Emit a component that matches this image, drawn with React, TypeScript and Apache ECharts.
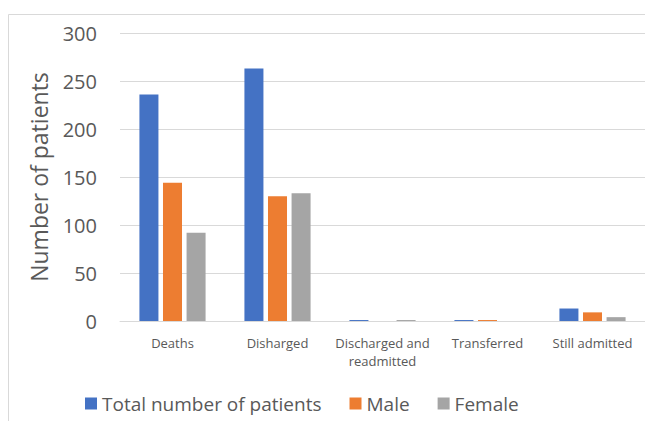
import React, { useEffect, useRef } from "react";
import * as echarts from "echarts";

const categories = ["Deaths", "Disharged", "Discharged and\nreadmitted", "Transferred", "Still admitted"];
const totalPatients = [236, 263, 1, 1, 13];
const malePatients = [144, 130, 0, 1, 9];
const femalePatients = [92, 133, 1, 0, 4];
const yTicks = [0, 50, 100, 150, 200, 250, 300];

const FONT = "'Open Sans', 'Noto Sans', sans-serif";
const TXT = "#595959";

export default function App() {
  const ref = useRef<HTMLDivElement>(null);
  useEffect(() => {
    const chart = echarts.init(ref.current!, undefined, { renderer: "svg" });
    chart.setOption({
      animation: false,
      textStyle: { fontFamily: FONT },
      graphic: [
        {
          type: "rect",
          shape: { x: 8.5, y: 14.5, width: 700, height: 500 },
          style: { fill: "none", stroke: "#d9d9d9", lineWidth: 1 },
          silent: true,
        },
      ],
      legend: {
        bottom: 3,
        left: 80,
        itemWidth: 12,
        itemHeight: 12,
        itemGap: 28,
        icon: "rect",
        textStyle: { fontSize: 19, color: TXT, fontFamily: FONT },
        data: ["Total number of patients", "Male", "Female"],
      },
      grid: { left: 120, top: 33, width: 531, height: 288, containLabel: false },
      xAxis: {
        type: "category",
        data: categories,
        axisLine: { lineStyle: { color: "#d9d9d9", width: 1 } },
        axisTick: { show: false },
        axisLabel: { fontSize: 13, color: TXT, margin: 13, lineHeight: 18, interval: 0 },
      },
      yAxis: {
        type: "value",
        min: yTicks[0],
        max: yTicks[yTicks.length - 1],
        interval: 50,
        name: "Number of patients",
        nameLocation: "middle",
        nameRotate: 90,
        nameGap: 70,
        nameTextStyle: { fontSize: 23, color: TXT, fontFamily: FONT },
        axisLine: { show: false },
        axisTick: { show: false },
        axisLabel: { fontSize: 20, color: TXT, margin: 23 },
        splitLine: { lineStyle: { color: "#d9d9d9", width: 1 } },
      },
      series: [
        { name: "Total number of patients", type: "bar", data: totalPatients, itemStyle: { color: "#4472C4" }, barGap: "24%", barCategoryGap: "37%" },
        { name: "Male", type: "bar", data: malePatients, itemStyle: { color: "#ED7D31" } },
        { name: "Female", type: "bar", data: femalePatients, itemStyle: { color: "#A5A5A5" } },
      ],
    });
    return () => chart.dispose();
  }, []);
  return <div ref={ref} style={{ position: "fixed", left: 0, top: 0, width: 645, height: 421, background: "#fff" }} />;
}
